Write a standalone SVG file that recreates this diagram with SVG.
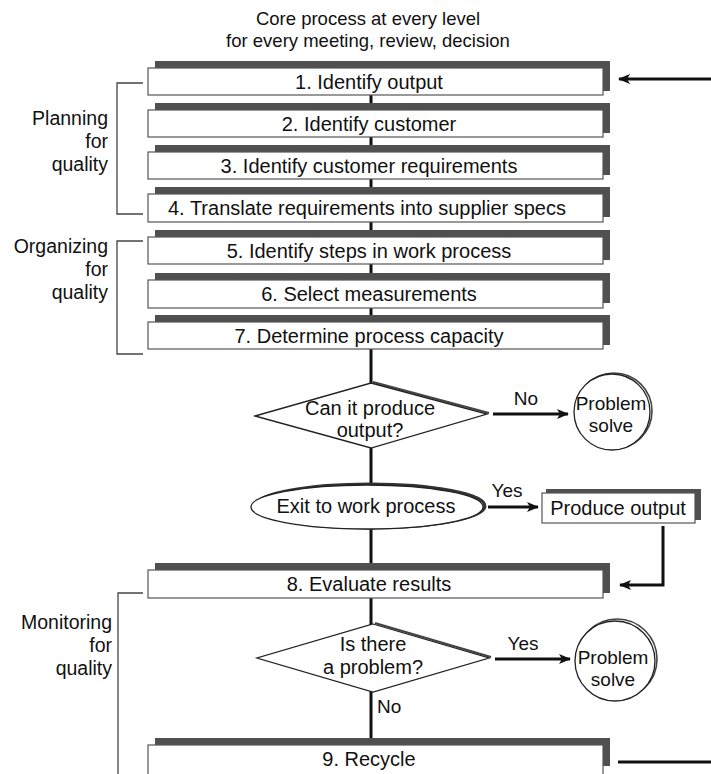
<svg xmlns="http://www.w3.org/2000/svg" width="711" height="774" viewBox="0 0 711 774">
  <defs>
    <style>
      text { font-family: "Liberation Sans", Arial, sans-serif; fill: #111; }
      .t { font-size: 20px; text-anchor: middle; }
      .side { font-size: 19.5px; text-anchor: end; }
      .title { font-size: 18.5px; text-anchor: middle; }
      .lbl { font-size: 19px; }
      .band { fill: #505050; }
      .body { fill: #fff; stroke: #555; stroke-width: 1.2; }
      .line { stroke: #111; stroke-width: 3; fill: none; }
      .thin { stroke: #222; stroke-width: 1.3; fill: #fff; }
      .shade { stroke: #444; stroke-width: 2; fill: none; }
      .brk { stroke: #444; stroke-width: 1.3; fill: none; }
    </style>
    <marker id="arr" viewBox="0 0 12 10" refX="11" refY="5" markerWidth="12" markerHeight="10" markerUnits="userSpaceOnUse" orient="auto">
      <path d="M0,0 L12,5 L0,10 L3,5 Z" fill="#111"/>
    </marker>
  </defs>

  <rect width="711" height="774" fill="#fff"/>

  <!-- heading -->
  <g id="title">
    <text class="title" x="368" y="25">Core process at every level</text>
    <text class="title" x="368" y="47">for every meeting, review, decision</text>
  </g>

  <!-- side brackets and phase labels -->
  <g id="planning">
    <path class="brk" d="M143,83 H117 V214 H143"/>
    <text class="side" x="108" y="125">Planning</text>
    <text class="side" x="108" y="148">for</text>
    <text class="side" x="108" y="171">quality</text>
  </g>
  <g id="organizing">
    <path class="brk" d="M143,241 H117 V354 H143"/>
    <text class="side" x="108" y="253">Organizing</text>
    <text class="side" x="108" y="276">for</text>
    <text class="side" x="108" y="299">quality</text>
  </g>
  <g id="monitoring">
    <path class="brk" d="M143,593 H118 V774"/>
    <text class="side" x="112" y="629">Monitoring</text>
    <text class="side" x="112" y="652">for </text>
    <text class="side" x="112" y="675">quality</text>
  </g>

  <!-- connectors -->
  <g id="connectors">
    <line class="line" x1="371" y1="95" x2="371" y2="745"/>
    <line class="line" x1="711" y1="79" x2="619" y2="79" marker-end="url(#arr)"/>
    <line class="line" x1="493" y1="414" x2="568" y2="414" marker-end="url(#arr)"/>
    <line class="line" x1="488" y1="507" x2="538" y2="507" marker-end="url(#arr)"/>
    <path class="line" d="M663,526 V585 H620" marker-end="url(#arr)"/>
    <line class="line" x1="495" y1="659" x2="570" y2="659" marker-end="url(#arr)"/>
    <line class="line" x1="618" y1="762" x2="711" y2="762"/>
    <text class="lbl" x="526" y="405" text-anchor="middle">No</text>
    <text class="lbl" x="507" y="497" text-anchor="middle">Yes</text>
    <text class="lbl" x="523" y="650" text-anchor="middle">Yes</text>
    <text class="lbl" x="377" y="713">No</text>
  </g>

  <!-- step boxes -->
  <g id="step1">
    <rect class="band" x="155" y="61" width="455" height="8"/>
    <rect class="band" x="603" y="61" width="7" height="30"/>
    <rect class="body" x="148" y="68" width="455" height="27"/>
    <text class="t" x="369" y="89">1. Identify output</text>
  </g>
  <g id="step2">
    <rect class="band" x="155" y="103" width="455" height="8"/>
    <rect class="band" x="603" y="103" width="7" height="30"/>
    <rect class="body" x="148" y="110" width="455" height="27"/>
    <text class="t" x="369" y="131">2. Identify customer</text>
  </g>
  <g id="step3">
    <rect class="band" x="155" y="145" width="455" height="8"/>
    <rect class="band" x="603" y="145" width="7" height="30"/>
    <rect class="body" x="148" y="152" width="455" height="27"/>
    <text class="t" x="369" y="173">3. Identify customer requirements</text>
  </g>
  <g id="step4">
    <rect class="band" x="155" y="187" width="455" height="8"/>
    <rect class="band" x="603" y="187" width="7" height="30"/>
    <rect class="body" x="148" y="194" width="455" height="28"/>
    <text class="t" x="367" y="215">4. Translate requirements into supplier specs</text>
  </g>
  <g id="step5">
    <rect class="band" x="155" y="230" width="455" height="8"/>
    <rect class="band" x="603" y="230" width="7" height="30"/>
    <rect class="body" x="148" y="237" width="455" height="27"/>
    <text class="t" x="369" y="258">5. Identify steps in work process</text>
  </g>
  <g id="step6">
    <rect class="band" x="155" y="273" width="455" height="8"/>
    <rect class="band" x="603" y="273" width="7" height="30"/>
    <rect class="body" x="148" y="280" width="455" height="28"/>
    <text class="t" x="369" y="301">6. Select measurements</text>
  </g>
  <g id="step7">
    <rect class="band" x="155" y="315" width="455" height="8"/>
    <rect class="band" x="603" y="315" width="7" height="30"/>
    <rect class="body" x="148" y="322" width="455" height="27"/>
    <text class="t" x="369" y="343">7. Determine process capacity</text>
  </g>

  <!-- decision: capability -->
  <g id="decision1">
    <polyline class="shade" points="373,382 489,413"/>
    <polygon class="thin" points="371,383 487,414 371,448 255,416"/>
    <text class="t" x="370" y="415">Can it produce</text>
    <text class="t" x="370" y="437">output?</text>
  </g>
  <g id="solve1">
    <circle cx="614" cy="411" r="38" fill="none" stroke="#444" stroke-width="1.6"/>
    <circle class="thin" cx="612" cy="412" r="38"/>
    <text class="lbl" x="611" y="410" text-anchor="middle">Problem</text>
    <text class="lbl" x="611" y="432" text-anchor="middle">solve</text>
  </g>

  <!-- exit to work process -->
  <g id="exit">
    <ellipse cx="370" cy="506" rx="115" ry="22" fill="none" stroke="#333" stroke-width="3"/>
    <ellipse class="thin" cx="367" cy="507" rx="116" ry="22"/>
    <text class="t" x="366" y="513">Exit to work process</text>
  </g>
  <g id="produce">
    <rect class="band" x="546" y="489" width="155" height="6"/>
    <rect class="band" x="694" y="489" width="7" height="31"/>
    <rect class="body" x="542" y="493" width="153" height="30"/>
    <text class="t" x="618" y="515">Produce output</text>
  </g>

  <g id="step8">
    <rect class="band" x="155" y="563" width="455" height="8"/>
    <rect class="band" x="603" y="563" width="7" height="30"/>
    <rect class="body" x="148" y="570" width="455" height="28"/>
    <text class="t" x="369" y="591">8. Evaluate results</text>
  </g>

  <!-- decision: problem check -->
  <g id="decision2">
    <polyline class="shade" points="375,623 491,657"/>
    <polygon class="thin" points="373,624 489,658 373,692 257,658"/>
    <text class="t" x="373" y="651">Is there</text>
    <text class="t" x="373" y="674">a problem?</text>
  </g>
  <g id="solve2">
    <circle cx="617" cy="659" r="40" fill="none" stroke="#444" stroke-width="1.6"/>
    <circle class="thin" cx="615" cy="661" r="40"/>
    <text class="lbl" x="613" y="664" text-anchor="middle">Problem</text>
    <text class="lbl" x="613" y="686" text-anchor="middle">solve</text>
  </g>

  <g id="step9">
    <rect class="band" x="155" y="738" width="455" height="8"/>
    <rect class="band" x="603" y="738" width="7" height="28"/>
    <rect class="body" x="148" y="745" width="455" height="30"/>
    <text class="t" x="369" y="766">9. Recycle</text>
  </g>
</svg>
